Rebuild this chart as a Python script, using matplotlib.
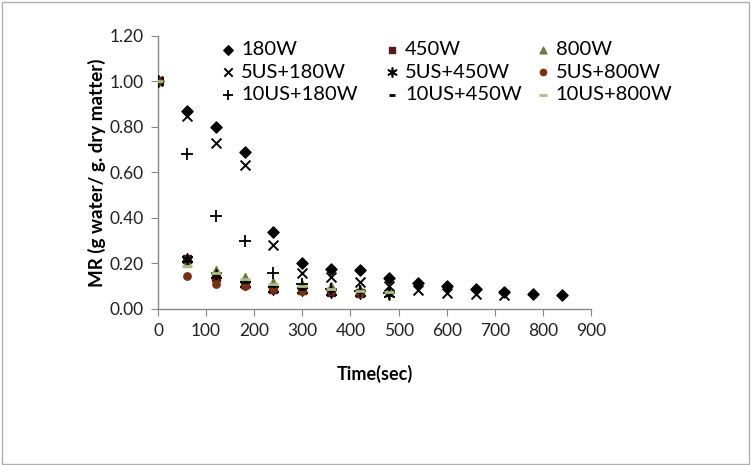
import matplotlib
matplotlib.use("Agg")
import matplotlib.pyplot as plt
from matplotlib.patches import Rectangle

plt.rcParams['font.family'] = ['Lato', 'DejaVu Sans']

t = [0, 60, 120, 180, 240, 300, 360, 420, 480, 540, 600, 660, 720, 780, 840]

mr_180 = [1.00, 0.87, 0.80, 0.69, 0.34, 0.20, 0.175, 0.17, 0.135, 0.115, 0.10, 0.09, 0.075, 0.065, 0.06]
mr_450 = [1.00, 0.22, 0.14, 0.11, 0.09, 0.085, 0.075, 0.07]
mr_800 = [1.00, 0.20, 0.17, 0.14, 0.12, 0.11, 0.10, 0.09, 0.08]
mr_5us_180 = [1.00, 0.85, 0.73, 0.635, 0.28, 0.16, 0.14, 0.12, 0.10, 0.085, 0.07, 0.065, 0.06]
mr_5us_450 = [1.00, 0.22, 0.15, 0.11, 0.09, 0.085, 0.075, 0.07, 0.065]
mr_5us_800 = [1.00, 0.145, 0.11, 0.10, 0.09, 0.08, 0.08, 0.07]
mr_10us_180 = [1.00, 0.68, 0.41, 0.30, 0.16, 0.11, 0.09, 0.08, 0.07]
mr_10us_450 = [1.00, 0.21, 0.15, 0.12, 0.10, 0.09, 0.08, 0.075, 0.07]
mr_10us_800 = [1.00, 0.19, 0.16, 0.13, 0.11, 0.10, 0.09, 0.08, 0.075]

labels = ['180W', '450W', '800W', '5US+180W', '5US+450W', '5US+800W',
          '10US+180W', '10US+450W', '10US+800W']

fig = plt.figure(figsize=(7.51, 4.65), dpi=100)
ax = fig.add_axes([0.2104, 0.3355, 0.5766, 0.5871])

series = [
    (mr_180, 'D', 'black', 32, 1.0),
    (mr_450, 's', '#5a1a1a', 30, 1.0),
    (mr_800, '^', '#6b7a3a', 32, 1.0),
    (mr_5us_180, 'x', 'black', 50, 1.4),
    (mr_5us_450, (6, 2, 0), 'black', 60, 1.2),
    (mr_5us_800, 'o', '#7a3010', 28, 1.0),
    (mr_10us_180, '+', 'black', 65, 1.3),
    (mr_10us_450, '_', 'black', 25, 2.0),
    (mr_10us_800, '_', '#a8c080', 45, 2.0),
]

handles = []
for (vals, m, c, s, lw), lab in zip(series, labels):
    h = ax.scatter(t[:len(vals)], vals, marker=m, s=s, c=c, linewidths=lw,
                   edgecolors=c if m not in ('x', '+', '_', (6, 2, 0)) else None,
                   label=lab, zorder=3)
    handles.append(h)

ax.set_xlim(0, 900)
ax.set_ylim(0, 1.20)
ax.set_xticks(range(0, 901, 100))
yt = [0.0, 0.2, 0.4, 0.6, 0.8, 1.0, 1.2]
ax.set_yticks(yt)
ax.set_yticklabels([f'{v:.2f}' for v in yt])
for sp in ['top', 'right']:
    ax.spines[sp].set_visible(False)
for sp in ['left', 'bottom']:
    ax.spines[sp].set_color('#888888')
    ax.spines[sp].set_linewidth(1.0)
ax.tick_params(axis='both', direction='out', length=5, color='#888888',
               labelsize=12.5, labelcolor='#222222', pad=5)
ax.set_xlabel('Time(sec)', fontsize=13, fontweight='bold', labelpad=19)
ax.set_ylabel('MR (g water/ g. dry matter)', fontsize=13.5, fontweight='bold', labelpad=3)

# Legend laid out in three columns (one legend per column), rows read across
col_x = [0.293, 0.511, 0.712]
for ci in range(3):
    idx = [ci, ci + 3, ci + 6]
    lg = fig.legend(handles=[handles[i] for i in idx], labels=[labels[i] for i in idx],
                    loc='upper left', bbox_to_anchor=(col_x[ci], 0.912),
                    frameon=False, fontsize=14.5, handletextpad=0.25,
                    labelspacing=0.28, handlelength=0.8, borderpad=0,
                    borderaxespad=0, scatterpoints=1, markerscale=0.85)

fig.patches.append(Rectangle((0.002, 0.003), 0.995, 0.993, transform=fig.transFigure,
                             fill=False, edgecolor='#b0b0b0', linewidth=1.0))

fig.savefig('out.png', dpi=100)
